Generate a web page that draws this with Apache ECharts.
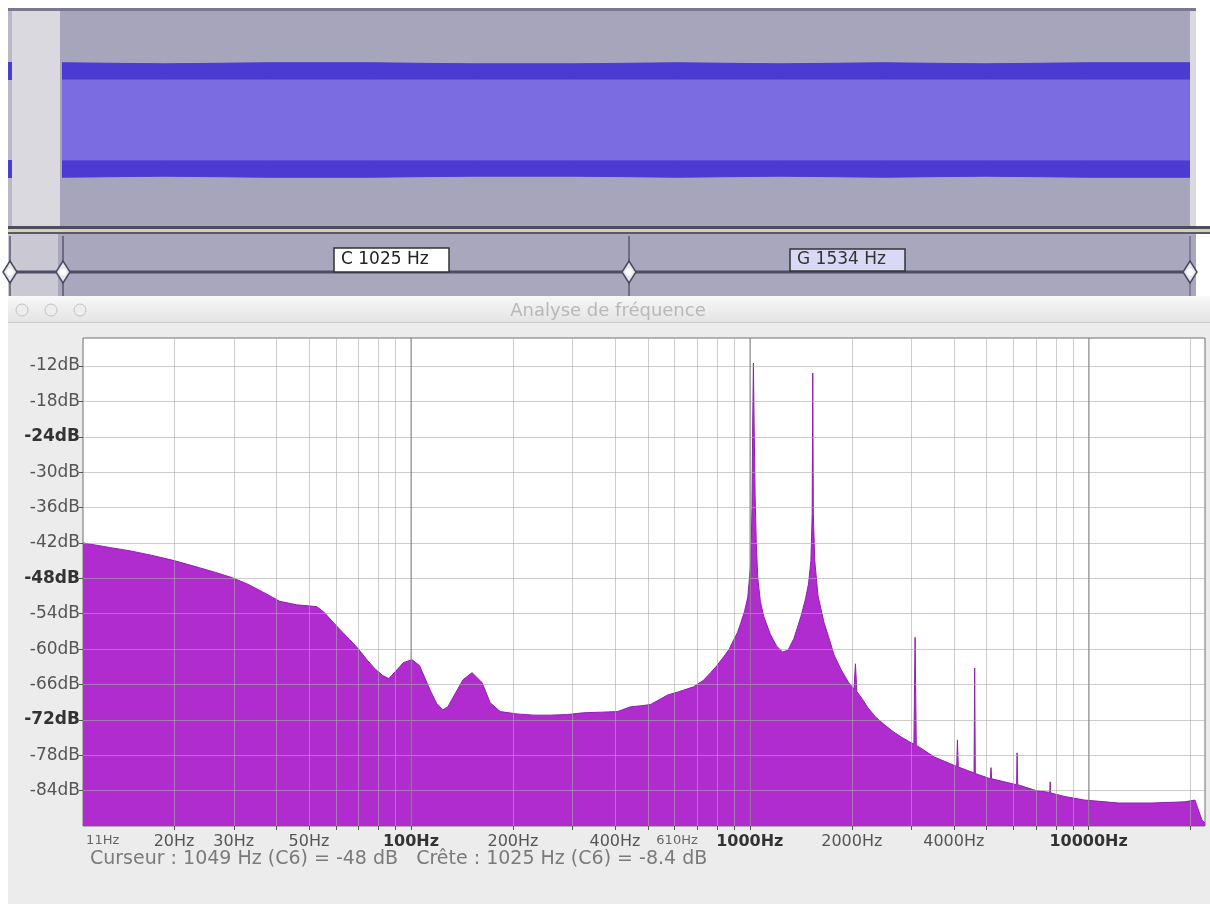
<!DOCTYPE html>
<html><head><meta charset="utf-8">
<script src="https://cdn.jsdelivr.net/npm/echarts@6/dist/echarts.min.js"></script>
<style>html,body{margin:0;padding:0;background:#fff;}#c{width:1210px;height:904px;}</style>
</head><body><div id="c"></div>
<script>
// ---- spectrum data (frequency in Hz, level in dB) ----
const freqHz = [10.77, 13, 15, 17.5, 20, 23.75, 26.5, 29.7, 33, 36.5, 41, 46, 52.7, 55.5, 58.8, 62, 66, 70, 74.1, 78.5, 82.6, 86, 90, 95, 100.7, 106, 113.8, 119, 124.3, 128.5, 133.1, 142.5, 151.5, 162.2, 171.3, 183.4, 205.9, 230, 257.8, 290, 322.8, 365, 406.9, 444.6, 480, 509.5, 540, 571.8, 620, 683, 730, 766.6, 800, 837.8, 870, 896.8, 920, 940.6, 965, 986.5, 1007, 1015, 1020, 1025, 1030, 1037, 1045, 1056, 1075, 1100, 1150, 1200, 1250, 1296, 1350, 1415, 1460, 1490, 1515, 1528, 1534, 1540, 1555, 1590, 1656, 1720, 1773, 1860, 1949, 2030, 2050, 2070, 2150, 2234, 2350, 2492, 2650, 2797, 2995, 3050, 3075, 3100, 3504, 4080, 4100, 4125, 4400, 4590, 4610, 4630, 5130, 5150, 5175, 6130, 6150, 6175, 7000, 7680, 7700, 7725, 8500, 9732, 12270, 15360, 19230, 20590, 21000, 21600, 22050];
const levelDb = [-42.0, -42.8, -43.4, -44.2, -45.0, -46.2, -47.0, -47.9, -49.0, -50.3, -51.9, -52.5, -52.8, -53.8, -55.4, -56.8, -58.4, -60.0, -61.8, -63.4, -64.5, -65.0, -63.8, -62.3, -61.8, -62.8, -66.9, -69.2, -70.3, -69.8, -68.2, -65.2, -64.0, -65.7, -69.1, -70.6, -71.0, -71.2, -71.2, -71.1, -70.8, -70.7, -70.6, -69.8, -69.6, -69.4, -68.6, -67.8, -67.2, -66.4, -65.3, -64.0, -62.8, -61.3, -60.0, -58.4, -57.2, -55.6, -53.6, -51.2, -45.4, -36, -22, -11.5, -22, -34, -42, -48, -52, -54.5, -57.5, -59.5, -60.5, -60.2, -58.2, -54.5, -51.5, -49, -45, -37, -13.2, -37, -45, -51, -55.5, -58.5, -61, -63.5, -65.5, -66.8, -62.5, -67.2, -68.5, -70, -71.5, -72.8, -74, -74.9, -75.9, -76.1, -58, -76.3, -78.3, -79.9, -75.4, -80.0, -80.6, -81.0, -63.2, -81.1, -82.0, -80.1, -82.0, -83.0, -77.6, -83.0, -84.0, -84.3, -82.5, -84.4, -85.0, -85.6, -86.1, -86.1, -85.9, -85.6, -87, -89, -89.5];
const xTickHz = [20,30,40,50,60,70,80,90,100,200,300,400,500,600,700,800,900,1000,2000,3000,4000,5000,6000,7000,8000,9000,10000,20000];
const xLabelHz = [11,20,30,50,100,200,400,610,1000,2000,4000,10000];
const xBoldHz = [100,1000,10000];
const xSmallHz = [11,610];
const yTickDb = [-84,-78,-72,-66,-60,-54,-48,-42,-36,-30,-24,-18,-12];
const yBoldDb = [-24,-48,-72];
const decadeHz = [100,1000,10000];
// ---- waveform envelope (time steps, amplitude) ----
const waveTime = [0,1,2,3,4,5,6,7,8,9,10,11];
const wavePeak = [0.53,0.52,0.53,0.53,0.52,0.52,0.53,0.52,0.53,0.52,0.53,0.53];
const waveRms  = [0.37,0.37,0.37,0.37,0.37,0.37,0.37,0.37,0.37,0.37,0.37,0.37];
// ---- texts ----
const markerLabels = ['C 1025 Hz','G 1534 Hz'];
const windowTitle = 'Analyse de fréquence';
const statusText = 'Curseur : 1049 Hz (C6) = -48 dB   Crête : 1025 Hz (C6) = -8.4 dB';

const FONT = '"DejaVu Sans", "Noto Sans", sans-serif';
const DARK = '#4a3bd2', LIGHT = '#7b6de1';
function waveSeries(vals, sign, color, z){
  return {type:'line', xAxisIndex:1, yAxisIndex:1, z:z,
    data: waveTime.map((t,i)=>[t, sign*vals[i]]), symbol:'none', silent:true,
    lineStyle:{width:1, color:color},
    areaStyle:{color: color, opacity:1, origin:'auto'}};
}
function handle(cx, cy){
  return [
    {type:'polygon', z:10, shape:{points:[[cx,cy-11],[cx+7,cy],[cx,cy+11],[cx-7,cy]]}, style:{fill:'#e6e6ef', stroke:'#4a4a60', lineWidth:1.5}},
    {type:'circle', z:11, shape:{cx:cx, cy:cy, r:3.5}, style:{fill:'#fff'}}
  ];
}

const chart = echarts.init(document.getElementById('c'), null, {renderer:'canvas'});
const option = {
  animation:false,
  backgroundColor:'#ffffff',
  grid:[
    {left:83, right:5, top:338, bottom:78, show:true, backgroundColor:'#ffffff', borderColor:'#6f6f6f', borderWidth:1, outerBoundsMode:'none', containLabel:false},
    {left:62, right:20, top:12, bottom:676, show:false, outerBoundsMode:'none', containLabel:false}
  ],
  xAxis:[
    {type:'log', logBase:10, gridIndex:0, min:10.77, max:22050, z:5,
     axisLine:{show:false},
     axisTick:{show:true, length:4, lineStyle:{color:'#555'}, customValues:xTickHz},
     splitLine:{show:true, lineStyle:{color:'rgba(172,172,172,0.6)', width:1}},
     minorTick:{show:false}, minorSplitLine:{show:false},
     axisLabel:{customValues:xLabelHz, margin:8, color:'#555', fontFamily:FONT, fontSize:16, alignMinLabel:'left',
       formatter:function(v){ const r=Math.round(v); const t=r+'Hz';
         if (xBoldHz.indexOf(r)>=0) return '{b|'+t+'}';
         if (xSmallHz.indexOf(r)>=0) return '{s|'+t+'}';
         return t; },
       rich:{b:{fontWeight:'bold', color:'#333', fontSize:16, fontFamily:FONT}, s:{fontSize:13, color:'#666', fontFamily:FONT}}}},
    {type:'value', gridIndex:1, min:0, max:11, show:false}
  ],
  yAxis:[
    {type:'value', gridIndex:0, min:-90, max:-7.25, z:5,
     axisLine:{show:false},
     axisTick:{show:true, length:4, lineStyle:{color:'#555'}, customValues:yTickDb},
     splitLine:{show:true, lineStyle:{color:'rgba(172,172,172,0.6)', width:1}},
     axisLabel:{customValues:yTickDb, margin:3, color:'#555', fontFamily:FONT, fontSize:17,
       formatter:function(v){ const r=Math.round(v); const t=r+'dB';
         return yBoldDb.indexOf(r)>=0 ? '{b|'+t+'}' : t; },
       rich:{b:{fontWeight:'bold', color:'#333', fontSize:17, fontFamily:FONT}}}},
    {type:'value', gridIndex:1, min:-1, max:1, show:false}
  ],
  series:[
    {type:'line', xAxisIndex:0, yAxisIndex:0, data: freqHz.map((f,i)=>[f, levelDb[i]]),
     symbol:'none', silent:true, z:2,
     lineStyle:{color:'#8e20ad', width:1},
     areaStyle:{color:'#b02ccf', opacity:1, origin:'start'},
     markLine:{silent:true, symbol:['none','none'], label:{show:false},
       lineStyle:{color:'rgba(115,115,115,0.55)', type:'solid', width:1.5},
       data: decadeHz.map(v=>({xAxis:v}))}},
    waveSeries(wavePeak, 1, DARK, 2),
    waveSeries(wavePeak, -1, DARK, 2),
    waveSeries(waveRms, 1, LIGHT, 3),
    waveSeries(waveRms, -1, LIGHT, 3)
  ],
  graphic:{elements:[
    // waveform track
    {type:'rect', z:-5, shape:{x:8,y:8,width:1188,height:222}, style:{fill:'#a7a5bc'}},
    {type:'rect', z:-4, shape:{x:8,y:8,width:1188,height:3}, style:{fill:'#7a788e'}},
    {type:'rect', z:-4, shape:{x:12,y:11,width:48,height:216}, style:{fill:'#dad9e0'}},
    {type:'rect', z:-4, shape:{x:8,y:11,width:4,height:216}, style:{fill:'#b9b8c6'}},
    {type:'rect', z:-4, shape:{x:1190,y:11,width:6,height:216}, style:{fill:'#dad9e0'}},
    {type:'rect', z:-4, shape:{x:8,y:62,width:4,height:18}, style:{fill:DARK}},
    {type:'rect', z:-4, shape:{x:8,y:160,width:4,height:18}, style:{fill:DARK}},
    // separator
    {type:'rect', z:-4, shape:{x:8,y:226,width:1202,height:3}, style:{fill:'#4e4d5e'}},
    {type:'rect', z:-4, shape:{x:8,y:229,width:1202,height:3}, style:{fill:'#d4d3a4'}},
    {type:'rect', z:-4, shape:{x:8,y:232,width:1202,height:2}, style:{fill:'#5a596c'}},
    // label track
    {type:'rect', z:-5, shape:{x:8,y:234,width:1188,height:62}, style:{fill:'#a9a7bd'}},
    {type:'rect', z:-4, shape:{x:8,y:234,width:50,height:62}, style:{fill:'#c9c8d3'}},
    {type:'line', z:5, shape:{x1:10,y1:272,x2:1190,y2:272}, style:{stroke:'#4e4d66', lineWidth:3}},
    {type:'line', z:5, shape:{x1:63,y1:236,x2:63,y2:296}, style:{stroke:'#5a596e', lineWidth:1.5}},
    {type:'line', z:5, shape:{x1:629,y1:236,x2:629,y2:296}, style:{stroke:'#5a596e', lineWidth:1.5}},
    {type:'line', z:5, shape:{x1:10,y1:236,x2:10,y2:296}, style:{stroke:'#5a596e', lineWidth:1.5}},
    {type:'line', z:5, shape:{x1:1190,y1:236,x2:1190,y2:296}, style:{stroke:'#5a596e', lineWidth:1}},
    ...handle(10,272), ...handle(63,272), ...handle(629,272), ...handle(1190,272),
    {type:'rect', z:12, shape:{x:334,y:248,width:115,height:24}, style:{fill:'#ffffff', stroke:'#333', lineWidth:1.5}},
    {type:'text', z:13, x:341, y:260, style:{text:markerLabels[0], fill:'#222', font:'17px '+FONT, textVerticalAlign:'middle'}},
    {type:'rect', z:12, shape:{x:790,y:249,width:115,height:22}, style:{fill:'#d9d8f5', stroke:'#333', lineWidth:1.5}},
    {type:'text', z:13, x:797, y:260, style:{text:markerLabels[1], fill:'#333', font:'17px '+FONT, textVerticalAlign:'middle'}},
    // window
    {type:'rect', z:-5, shape:{x:8,y:296,width:1202,height:608}, style:{fill:'#ececec'}},
    {type:'rect', z:-4, shape:{x:8,y:296,width:1202,height:26}, style:{fill:{type:'linear',x:0,y:0,x2:0,y2:1,colorStops:[{offset:0,color:'#f7f7f7'},{offset:1,color:'#e4e4e4'}]}}},
    {type:'rect', z:-4, shape:{x:8,y:322,width:1202,height:1}, style:{fill:'#cdcdcd'}},
    {type:'circle', z:-3, shape:{cx:22,cy:310,r:6}, style:{fill:'#ededed', stroke:'#c2c2c2', lineWidth:1}},
    {type:'circle', z:-3, shape:{cx:51,cy:310,r:6}, style:{fill:'#ededed', stroke:'#c2c2c2', lineWidth:1}},
    {type:'circle', z:-3, shape:{cx:80,cy:310,r:6}, style:{fill:'#ededed', stroke:'#c2c2c2', lineWidth:1}},
    {type:'text', z:-3, x:608, y:311, style:{text:windowTitle, fill:'#b8b8b8', font:'18px '+FONT, textAlign:'center', textVerticalAlign:'middle'}},
    {type:'text', z:10, x:90, y:859, style:{text:statusText, fill:'#7a7a7a', font:'19px '+FONT, textVerticalAlign:'middle'}}
  ]}
};
chart.setOption(option);
</script>
</body></html>
